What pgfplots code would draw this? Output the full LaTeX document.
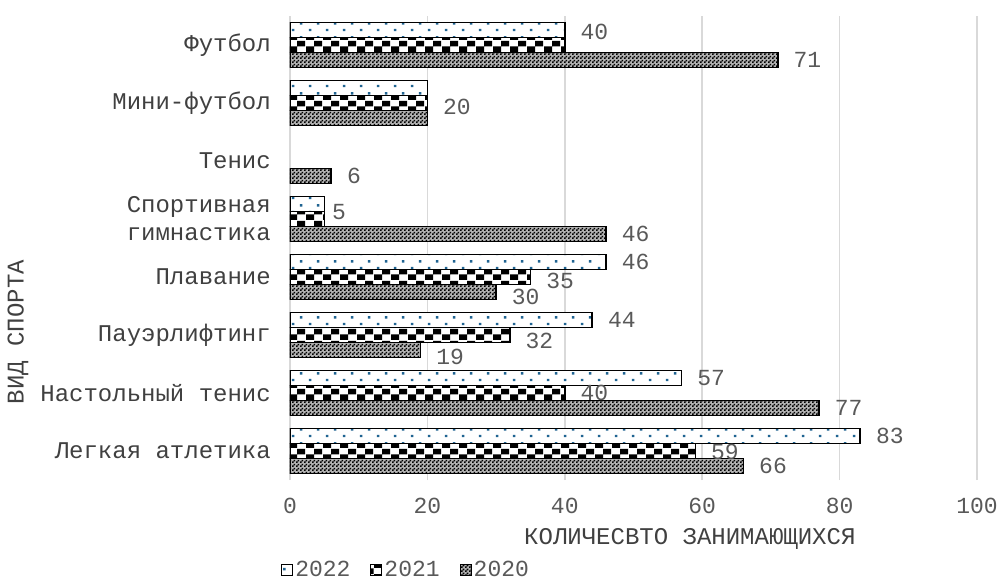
\documentclass[border=0pt]{standalone}
\usepackage{fontspec}
\setmainfont{Liberation Mono}
\newfontfamily\numfont{Liberation Mono}
\usepackage{pgfplots}
\usepackage{pgfplotstable}
\pgfplotsset{compat=1.18}
\usetikzlibrary{patterns}
\definecolor{gridc}{HTML}{D9D9D9}
\definecolor{txt}{HTML}{404040}
\definecolor{numc}{HTML}{595959}
\definecolor{dotc}{HTML}{1F6391}

\pgfdeclarepatternformonly{bigcheck}{\pgfpointorigin}{\pgfqpoint{17pt}{12pt}}{\pgfqpoint{17pt}{12pt}}{%
  \pgfpathrectangle{\pgfpointorigin}{\pgfqpoint{8.5pt}{6pt}}%
  \pgfpathrectangle{\pgfqpoint{8.5pt}{6pt}}{\pgfqpoint{8.5pt}{6pt}}%
  \pgfusepath{fill}}
\pgfdeclarepatternformonly{finecheck}{\pgfpointorigin}{\pgfqpoint{3.6pt}{3.6pt}}{\pgfqpoint{3.6pt}{3.6pt}}{%
  \pgfpathrectangle{\pgfpointorigin}{\pgfqpoint{1.8pt}{1.8pt}}%
  \pgfpathrectangle{\pgfqpoint{1.8pt}{1.8pt}}{\pgfqpoint{1.8pt}{1.8pt}}%
  \pgfusepath{fill}}
\pgfdeclarepatternformonly{bluedots}{\pgfpointorigin}{\pgfqpoint{17pt}{14pt}}{\pgfqpoint{17pt}{14pt}}{%
  \pgfpathrectangle{\pgfqpoint{3pt}{3pt}}{\pgfqpoint{2.6pt}{2.6pt}}%
  \pgfpathrectangle{\pgfqpoint{11.5pt}{10pt}}{\pgfqpoint{2.6pt}{2.6pt}}%
  \pgfusepath{fill}}

% 2022
\pgfplotstableread{
y x lab dy dx
7 40 40 2 0
6 20 {} 0 0
4 5 5 8 -8
3 46 46 0 0
2 44 44 0 0
1 57 57 0 0
0 83 83 0 0
}\tA
% 2021
\pgfplotstableread{
y x lab dy dx
7 40 {} 0 0
6 20 20 4 0
4 5 {} 0 0
3 35 35 4 0
2 32 32 6 0
1 40 40 0 0
0 59 59 1 0
}\tB
% 2020
\pgfplotstableread{
y x lab dy dx
7 71 71 0 0
6 20 {} 0 0
5 6 6 0 0
4 46 46 0 0
3 30 30 5 0
2 19 19 7 0
1 77 77 0 0
0 66 66 0 0
}\tC

\begin{document}
\begin{tikzpicture}
\path[use as bounding box] (-290pt,-99pt) rectangle (708pt,480pt);
\begin{axis}[
  at={(0pt,0pt)}, anchor=south west,
  scale only axis, width=687pt, height=464pt,
  xmin=0, xmax=100, ymin=-0.5, ymax=7.5,
  xbar, bar width=15pt,
  xtick={0,20,40,60,80,100}, xticklabels={0,20,40,60,80,100},
  ytick={0,1,2,3,4,5,6,7},
  yticklabels={Легкая атлетика,Настольный тенис,Пауэрлифтинг,Плавание,{Спортивная\\гимнастика},Тенис,Мини-футбол,Футбол},
  xmajorgrids, grid style={gridc, line width=1.5pt},
  axis line style={draw=none},
  major tick length=0pt,
  xticklabel style={font=\numfont\fontsize{23}{26}\selectfont, text=numc, anchor=north, inner sep=0pt, yshift=-18pt},
  yticklabel style={font=\fontsize{24}{28}\selectfont, text=txt, align=right, anchor=east, inner sep=0pt, xshift=-19pt},
  xlabel={КОЛИЧЕСВТО ЗАНИМАЮЩИХСЯ},
  xlabel style={at={(axis description cs:0.582,-0.127)}, anchor=center, font=\fontsize{24}{28}\selectfont, text=txt},
  ylabel={ВИД СПОРТА},
  ylabel style={at={(axis description cs:-0.396,0.319)}, anchor=center, font=\fontsize{24}{28}\selectfont, text=txt},
  legend style={at={(axis description cs:0.169,-0.192)}, anchor=center, draw=none, fill=none,
    font=\numfont\fontsize{23}{26}\selectfont, text=numc, legend columns=3,
    /tikz/every even column/.append style={column sep=18pt}},
  legend image code/.code={\draw[#1] (0pt,-6pt) rectangle (11pt,5pt);},
  point meta=explicit symbolic,
  nodes near coords,
  visualization depends on={\thisrow{dy} \as \dy},
  visualization depends on={\thisrow{dx} \as \dx},
  every node near coord/.append style={anchor=west, inner sep=0pt, xshift=15pt, xshift=\dx pt, yshift=-\dy pt,
    font=\numfont\fontsize{23}{26}\selectfont, text=numc},
]
\addlegendimage{draw=black, line width=1pt, preaction={fill=white}, pattern=bluedots, pattern color=dotc}
\addlegendimage{draw=black, line width=1pt, preaction={fill=white}, pattern=bigcheck, pattern color=black}
\addlegendimage{draw=black, line width=1pt, preaction={fill=black!30}, pattern=finecheck, pattern color=black}
\addplot[forget plot, draw=black, line width=1.6pt, preaction={fill=white}, pattern=bluedots, pattern color=dotc, bar shift=15pt]
  table[x=x, y=y, meta=lab]{\tA};
\addplot[forget plot, draw=black, line width=1.6pt, preaction={fill=white}, pattern=bigcheck, pattern color=black, bar shift=0pt]
  table[x=x, y=y, meta=lab]{\tB};
\addplot[forget plot, draw=black, line width=1.6pt, preaction={fill=black!30}, pattern=finecheck, pattern color=black, bar shift=-15pt]
  table[x=x, y=y, meta=lab]{\tC};
\legend{2022,2021,2020}
\end{axis}
\end{tikzpicture}
\end{document}
